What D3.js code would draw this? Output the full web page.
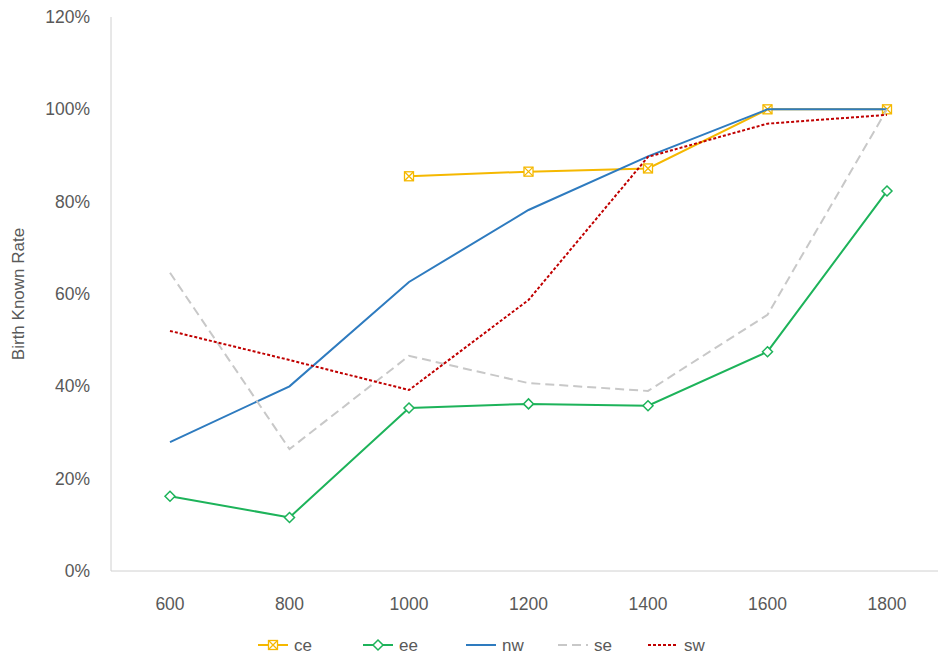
<!DOCTYPE html><html><head><script src="https://cdn.jsdelivr.net/npm/d3@7"></script>
<style>body{margin:0;background:#fff}text{font-family:"Liberation Sans",Arial,sans-serif}</style></head><body>
<svg id="c" width="938" height="659"></svg>
<script>
const years=[600,800,1000,1200,1400,1600,1800];
const ce=[null,null,85.5,86.5,87.2,100,100];
const ee=[16.2,11.6,35.3,36.2,35.8,47.5,82.3];
const nw=[27.9,40,62.6,78.2,89.8,100,100];
const se=[64.6,26.4,46.6,40.7,39,55.5,100];
const sw=[52,45.7,39.2,58.7,89.7,96.9,98.8];
const yTicks=[0,20,40,60,80,100,120];
const series=[
 {name:"ce",v:ce,color:"#F5B800",dash:null,marker:"x"},
 {name:"ee",v:ee,color:"#1DB35A",dash:null,marker:"d"},
 {name:"nw",v:nw,color:"#2E7BBF",dash:null},
 {name:"se",v:se,color:"#C8C8C8",dash:"9,5"},
 {name:"sw",v:sw,color:"#C00000",dash:"3,2"}];
const svg=d3.select("#c");
const x=d3.scaleLinear().domain([600,1800]).range([170,887]);
const y=d3.scaleLinear().domain([0,120]).range([571,17]);
svg.append("line").attr("x1",111).attr("x2",111).attr("y1",17).attr("y2",571).attr("stroke","#d0d0d0");
svg.append("line").attr("x1",111).attr("x2",938).attr("y1",571).attr("y2",571).attr("stroke","#d0d0d0");
svg.selectAll(".yt").data(yTicks).join("text").attr("x",90).attr("y",d=>y(d)+6).attr("text-anchor","end")
 .attr("font-size",17.5).attr("fill","#595959").text(d=>d+"%");
svg.selectAll(".xt").data(years).join("text").attr("x",d=>x(d)).attr("y",610).attr("text-anchor","middle")
 .attr("font-size",17.5).attr("fill","#595959").text(d=>d);
svg.append("text").attr("transform","translate(24,294) rotate(-90)").attr("text-anchor","middle")
 .attr("font-size",17).attr("fill","#595959").text("Birth Known Rate");
function marker(g,m,cx,cy,c){
 if(m==="x"){g.append("rect").attr("x",cx-4.5).attr("y",cy-4.5).attr("width",9).attr("height",9).attr("fill","#fff").attr("stroke",c).attr("stroke-width",1.3);
  g.append("path").attr("d",`M${cx-4.5},${cy-4.5}L${cx+4.5},${cy+4.5}M${cx+4.5},${cy-4.5}L${cx-4.5},${cy+4.5}`).attr("stroke",c).attr("stroke-width",1.3);}
 else if(m==="d"){g.append("path").attr("d",`M${cx},${cy-5}L${cx+5},${cy}L${cx},${cy+5}L${cx-5},${cy}Z`).attr("fill","#fff").attr("stroke",c).attr("stroke-width",1.5);}
}
const line=d3.line().defined(d=>d[1]!=null).x(d=>x(d[0])).y(d=>y(d[1]));
series.forEach(s=>{
 const pts=years.map((yr,i)=>[yr,s.v[i]]);
 svg.append("path").datum(pts).attr("d",line).attr("fill","none").attr("stroke",s.color).attr("stroke-width",2).attr("stroke-dasharray",s.dash);
 if(s.marker){const g=svg.append("g");pts.filter(p=>p[1]!=null).forEach(p=>marker(g,s.marker,x(p[0]),y(p[1]),s.color));}
});
const lx=[258,363,466,558,648];
series.forEach((s,i)=>{
 const g=svg.append("g");
 g.append("line").attr("x1",lx[i]).attr("x2",lx[i]+30).attr("y1",645).attr("y2",645).attr("stroke",s.color).attr("stroke-width",2).attr("stroke-dasharray",s.dash);
 if(s.marker)marker(g,s.marker,lx[i]+15,645,s.color);
 g.append("text").attr("x",lx[i]+36).attr("y",651).attr("font-size",17).attr("fill","#595959").text(s.name);
});
</script></body></html>
